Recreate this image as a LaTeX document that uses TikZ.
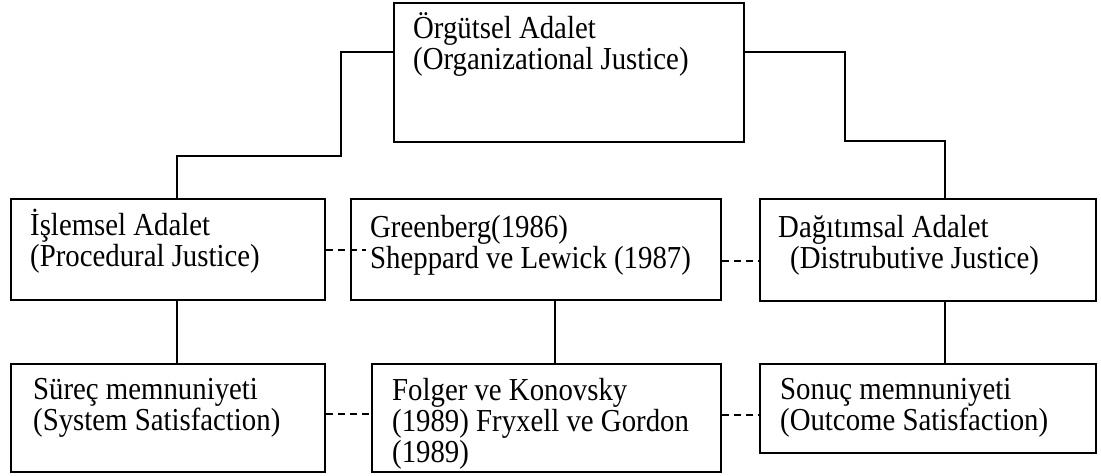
\documentclass[tikz,border=0pt]{standalone}
\usepackage{fontspec}
\setmainfont{Liberation Serif}[FakeStretch=0.9]
\usetikzlibrary{positioning}

\begin{document}
\begin{tikzpicture}[
    x=1pt, y=-1pt,
    box/.style={draw, line width=2pt, anchor=north west, inner sep=0pt},
    txt/.style={align=left, inner sep=0pt, font=\fontsize{32}{31}\selectfont},
    link/.style={line width=1.6pt},
    dashlink/.style={line width=2pt, dash pattern=on 7pt off 5pt},
]
\useasboundingbox (0,0) rectangle (1101,475);

\node[box, minimum width=350pt, minimum height=139pt] (org) at (393,2) {};
\node[box, minimum width=314pt, minimum height=101pt] (proc) at (10,198) {};
\node[box, minimum width=370pt, minimum height=101pt] (green) at (350,198) {};
\node[box, minimum width=336pt, minimum height=102pt] (dist) at (759,198) {};
\node[box, minimum width=314pt, minimum height=108pt] (surec) at (10,363) {};
\node[box, minimum width=349pt, minimum height=108pt] (folger) at (371,363) {};
\node[box, minimum width=336pt, minimum height=89pt] (sonuc) at (759,363) {};

\node[txt, below right=10pt and 20pt of org.north west] (org-t)
    {Örgütsel Adalet\\(Organizational Justice)};
\node[txt, below right=11pt and 20pt of proc.north west] (proc-t)
    {İşlemsel Adalet\\(Procedural Justice)};
\node[txt, below right=17pt and 20pt of green.north west] (green-t)
    {Greenberg(1986)\\Sheppard ve Lewick (1987)};
\node[txt, below right=17pt and 19pt of dist.north west] (dist-t)
    {Dağıtımsal Adalet\\\hspace*{12pt}(Distrubutive Justice)};
\node[txt, below right=15pt and 23pt of surec.north west] (surec-t)
    {Süreç memnuniyeti\\(System Satisfaction)};
\node[txt, below right=15pt and 21pt of folger.north west] (folger-t)
    {Folger ve Konovsky\\(1989) Fryxell ve Gordon\\(1989)};
\node[txt, below right=15pt and 21pt of sonuc.north west] (sonuc-t)
    {Sonuç memnuniyeti\\(Outcome Satisfaction)};

\draw[link] ([yshift=-50pt]org.north west) -- ++(-52,0) -- ++(0,104) -| ([xshift=9pt]proc.north);
\draw[link] ([yshift=-50pt]org.north east) -- ++(100,0) -- ++(0,89) -| ([xshift=17pt]dist.north);

\draw[link] ([xshift=9pt]proc.south) -- ([xshift=9pt]proc.south |- surec.north);
\draw[link] ([xshift=19pt]green.south) -- ([xshift=19pt]green.south |- folger.north);
\draw[link] ([xshift=17pt]dist.south) -- ([xshift=17pt]dist.south |- sonuc.north);

\draw[dashlink] (proc.east) -- ([xshift=16pt]green.west);
\draw[dashlink] ([yshift=-11pt]green.east) -- ([yshift=-11pt]green.east -| dist.west);
\draw[dashlink] ([yshift=4pt]surec.east) -- ([yshift=4pt]surec.east -| folger.west);
\draw[dashlink] ([yshift=-6pt]sonuc.west -| folger.east) -- ([yshift=-6pt]sonuc.west);
\end{tikzpicture}
\end{document}
